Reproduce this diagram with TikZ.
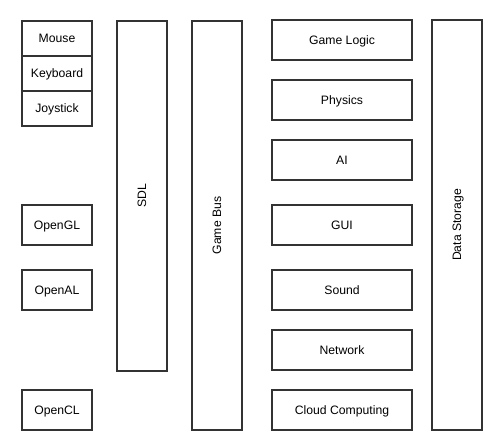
\documentclass[tikz,border=0pt]{standalone}
\usepackage{fontspec}
\setmainfont{Liberation Sans}
\definecolor{edge}{HTML}{333333}
\begin{document}
\begin{tikzpicture}[x=1pt,y=-1pt,
  lbl/.style={font=\fontsize{12.2}{14}\selectfont,text height=8.8pt,text depth=0.4pt,inner sep=0pt},
  blk/.style={draw=edge,line width=2pt,fill=white,lbl}]
\useasboundingbox (0,0) rectangle (497,445);
% input stack
\node[blk,minimum width=70pt,minimum height=35pt] (mouse) at (57,38) {Mouse};
\node[blk,minimum width=70pt,minimum height=35pt] (kbd) at (57,73) {Keyboard};
\node[blk,minimum width=70pt,minimum height=35pt] (joy) at (57,108) {Joystick};
\node[blk,minimum width=70pt,minimum height=40pt] (gl) at (57,225) {OpenGL};
\node[blk,minimum width=70pt,minimum height=40pt] (al) at (57,290) {OpenAL};
\node[blk,minimum width=70pt,minimum height=40pt] (cl) at (57,410) {OpenCL};
% tall bars
\node[blk,minimum width=50pt,minimum height=350pt] (sdl) at (142,196) {};
\node[lbl,rotate=90] at (sdl.center) {SDL};
\node[blk,minimum width=50pt,minimum height=409pt] (bus) at (217,225.5) {};
\node[lbl,rotate=90] at (bus.center) {Game Bus};
\node[blk,minimum width=50pt,minimum height=410pt] (ds) at (457,225) {};
\node[lbl,rotate=90] at (ds.center) {Data Storage};
% right column
\node[blk,minimum width=140pt,minimum height=40pt] (logic) at (342,40) {Game Logic};
\node[blk,minimum width=140pt,minimum height=40pt] (phys) at (342,100) {Physics};
\node[blk,minimum width=140pt,minimum height=40pt] (ai) at (342,160) {AI};
\node[blk,minimum width=140pt,minimum height=40pt] (gui) at (342,225) {GUI};
\node[blk,minimum width=140pt,minimum height=40pt] (snd) at (342,290) {Sound};
\node[blk,minimum width=140pt,minimum height=40pt] (net) at (342,350) {Network};
\node[blk,minimum width=140pt,minimum height=40pt] (cloud) at (342,410) {Cloud Computing};
\end{tikzpicture}
\end{document}
